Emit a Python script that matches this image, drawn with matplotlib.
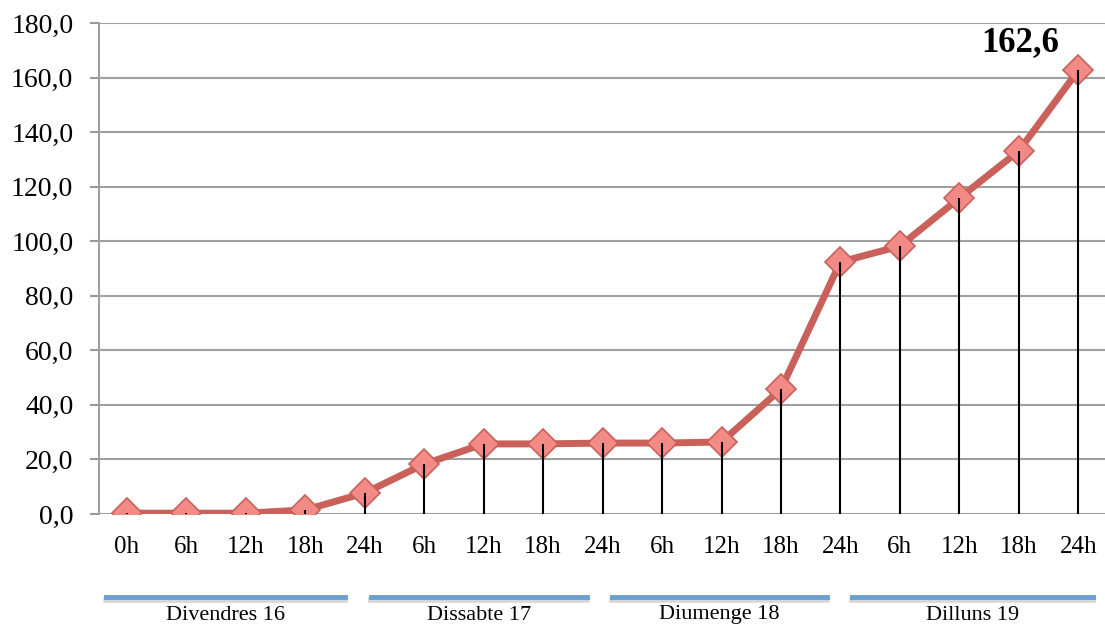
import matplotlib.pyplot as plt
from matplotlib.transforms import blended_transform_factory

# data
hours = ["0h", "6h", "12h", "18h", "24h", "6h", "12h", "18h", "24h",
         "6h", "12h", "18h", "24h", "6h", "12h", "18h", "24h"]
values = [0.3, 0.3, 0.3, 1.5, 7.7, 18.3, 25.7, 25.7, 26.0,
          26.0, 26.4, 45.8, 92.4, 98.2, 115.8, 133.1, 162.6]
days = ["Divendres 16", "Dissabte 17", "Diumenge 18", "Dilluns 19"]

# layout of the day bars (in category units)
day_starts = [-0.36, 4.1, 8.15, 12.2]
day_ends = [3.67, 7.73, 11.78, 16.24]

plt.rcParams['font.family'] = ['Liberation Serif', 'DejaVu Serif']

fig = plt.figure(figsize=(11.05, 6.29), dpi=100)
ax = fig.add_axes([99 / 1105, 1 - 514 / 629, 1006 / 1105, 491 / 629])

x = list(range(len(values)))
ax.plot(x, values, color="#C9605A", lw=5, zorder=3, solid_capstyle="round")
ax.plot(x, values, ls="none", marker="D", markersize=15,
        markerfacecolor="#F28A85", markeredgecolor="#C9605A",
        markeredgewidth=1.2, zorder=4)
ax.vlines(x, 0, values, color="black", lw=1.5, zorder=5)

ax.set_xlim(-0.47, len(values) - 0.55)
ax.set_ylim(0, 180)
ax.set_yticks(range(0, 181, 20))
ax.set_yticklabels([f"{v},0" for v in range(0, 181, 20)], fontsize=20)
ax.set_xticks(x)
ax.set_xticklabels(hours, fontsize=18)
ax.tick_params(axis="x", length=0, pad=16)
ax.tick_params(axis="y", length=6.5, width=1.5, color="#999999", pad=12)

ax.grid(axis="y", color="#A0A0A0", lw=1.5, zorder=0)
for s in ["top", "right", "bottom"]:
    ax.spines[s].set_visible(False)
ax.spines["left"].set_color("#A0A0A0")
ax.spines["left"].set_linewidth(1.5)

ax.annotate("162,6", (x[-1], values[-1]), xytext=(-42, 20),
            textcoords="offset points", ha="center", va="center",
            fontsize=25, fontweight="bold")

# day groups under the axis
tr = blended_transform_factory(ax.transData, ax.transAxes)
bar_y = (514 - 597) / 491
lab_y = (514 - 615) / 491
for name, a, b in zip(days, day_starts, day_ends):
    ax.plot([a, b], [bar_y - 0.006, bar_y - 0.006], color="#BBBBBB", lw=4,
            transform=tr, clip_on=False, alpha=0.6)
    ax.plot([a, b], [bar_y, bar_y], color="#6A9FD4", lw=3.5,
            transform=tr, clip_on=False)
    ax.text((a + b) / 2, lab_y, name, transform=tr, ha="center",
            va="center", fontsize=16)

fig.savefig("out.png", dpi=100)
